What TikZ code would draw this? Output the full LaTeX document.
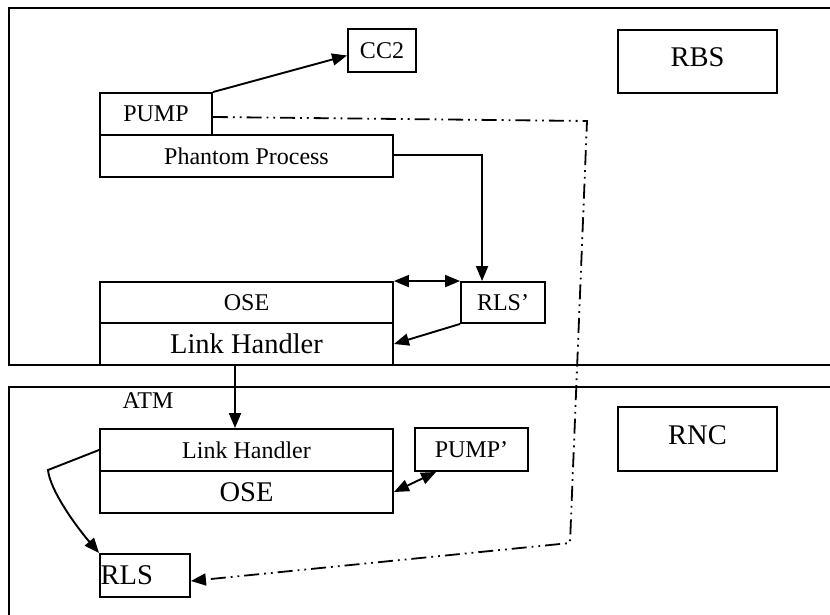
\documentclass[tikz,border=0pt]{standalone}
\usepackage{fontspec}
\setmainfont{Liberation Serif}
\usetikzlibrary{arrows.meta,calc}

\tikzset{
  box/.style={draw, line width=1.9pt, inner sep=0pt, rectangle},
  small/.style={font=\fontsize{24}{27}\selectfont},
  large/.style={font=\fontsize{28.5}{32}\selectfont},
  tip/.style={},
  conn/.style={line width=1.9pt, -{Triangle[length=15pt,width=12pt]}},
  biconn/.style={line width=1.9pt, {Triangle[length=15pt,width=12pt]}-{Triangle[length=15pt,width=12pt]}},
  dashdot/.style={line width=1.8pt, dash pattern=on 15pt off 5pt on 1.8pt off 5pt on 1.8pt off 5pt,
                  -{Triangle[length=15pt,width=12pt]}},
}

\begin{document}
\begin{tikzpicture}[x=1pt, y=-1pt]
  \clip (0,0) rectangle (830,615);
  \fill[white] (0,0) rectangle (830,615);

  % the two enclosing areas
  \draw[line width=1.9pt] (9,8) rectangle (845,365);
  \draw[line width=1.9pt] (9,387) rectangle (845,630);

  % upper area
  \node[box, small, minimum width=68pt, minimum height=43pt] (cc2) at (382,50.5) {CC2};
  \node[box, minimum width=159pt, minimum height=63pt] (rbs) at (697.5,61.5) {};
  \node[large] (rbslabel) at (697.5,57) {RBS};
  \node[box, small, minimum width=112pt, minimum height=42pt] (pump) at (156,114) {PUMP};
  \node[box, small, minimum width=293pt, minimum height=42pt] (phantom) at (246.5,156) {Phantom Process};
  \node[box, small, minimum width=293pt, minimum height=41pt] (ose1) at (246.5,302.5) {OSE};
  \node[box, large, minimum width=293pt, minimum height=42pt] (lh1) at (246.5,344) {Link Handler};
  \node[box, small, minimum width=84pt, minimum height=41pt] (rlsp) at (503,302.5) {RLS’};

  % lower area
  \node[small] (atm) at (148,401) {ATM};
  \node[box, small, minimum width=293pt, minimum height=42pt] (lh2) at (246.5,450) {Link Handler};
  \node[box, large, minimum width=293pt, minimum height=42pt] (ose2) at (246.5,492) {OSE};
  \node[box, small, minimum width=113pt, minimum height=43pt] (pumpp) at (471.5,449.5) {PUMP’};
  \node[box, minimum width=159pt, minimum height=64pt] (rnc) at (697.5,439) {};
  \node[large] (rnclabel) at (697.5,435) {RNC};
  \node[box, minimum width=90pt, minimum height=43pt] (rls) at (145,575.5) {};
  \node[large, anchor=west, inner sep=0pt] (rlslabel) at (100.5,575.5) {RLS};

  % bend points
  \coordinate (bend) at (48,470);
  \coordinate (d1) at (587,121);
  \coordinate (d2) at (570,543);

  % connectors
  \draw[conn] (pump.north east) -- ([yshift=-5pt]cc2.west);
  \draw[conn] ([yshift=1pt]phantom.east) -| ([xshift=22pt]rlsp.north west);
  \draw[biconn] (ose1.north east) -- (rlsp.north west);
  \draw[conn] (rlsp.south west) -- (lh1.east);
  \draw[conn] ([xshift=-11.5pt]lh1.south) -- ([xshift=-11.5pt]lh2.north);
  \draw[biconn] (ose2.east) -- ([xshift=22pt]pumpp.south west);
  \draw[conn] (lh2.west) -- (bend) .. controls (50,490) and (75,525) .. (rls.north west);
  \draw[dashdot] ([yshift=-3pt]pump.east) -- (d1) -- (d2) -- ([yshift=-5.5pt]rls.east);
\end{tikzpicture}
\end{document}
